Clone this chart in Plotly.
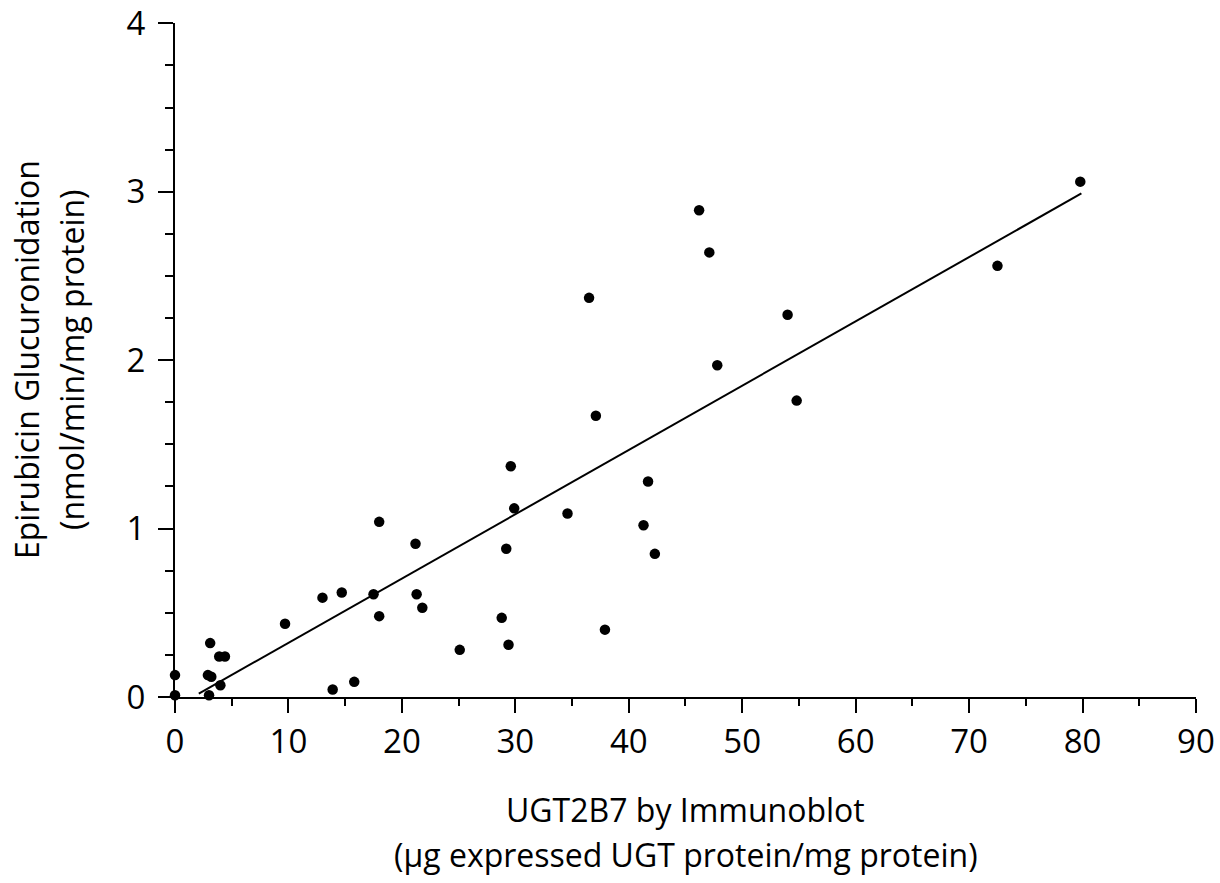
import plotly.graph_objects as go

# Data
ugt2b7 = [0.0, 0.0, 3.1, 2.9, 3.2, 3.0, 4.0, 3.9, 4.4, 9.7,
          13.0, 14.7, 13.9, 15.8, 17.5, 18.0, 21.3, 21.8, 25.1, 29.6,
          18.0, 29.9, 34.6, 41.7, 41.3, 42.3, 21.2, 29.2, 28.8, 29.4,
          37.9, 36.5, 54.0, 47.8, 54.8, 37.1, 46.2, 47.1, 79.8, 72.5]
glucuronidation = [0.13, 0.01, 0.32, 0.13, 0.12, 0.01, 0.07, 0.24, 0.24, 0.435,
                   0.59, 0.62, 0.045, 0.09, 0.61, 0.48, 0.61, 0.53, 0.28, 1.37,
                   1.04, 1.12, 1.09, 1.28, 1.02, 0.85, 0.91, 0.88, 0.47, 0.31,
                   0.40, 2.37, 2.27, 1.97, 1.76, 1.67, 2.89, 2.64, 3.06, 2.56]

fit_x = [2.1, 79.9]
fit_y = [0.02, 2.99]

x_ticks = [0, 10, 20, 30, 40, 50, 60, 70, 80, 90]
y_ticks = [0, 1, 2, 3, 4]

x_title_lines = ["UGT2B7 by Immunoblot", "(µg expressed UGT protein/mg protein)"]
y_title_lines = ["Epirubicin Glucuronidation", "(nmol/min/mg protein)"]

FONT = "Open Sans"
TICK_SIZE = 33
TITLE_SIZE = 32

fig = go.Figure()
fig.add_trace(go.Scatter(x=fit_x, y=fit_y, mode="lines",
                         line=dict(color="black", width=2), showlegend=False,
                         cliponaxis=False))
fig.add_trace(go.Scatter(x=ugt2b7, y=glucuronidation, mode="markers",
                         marker=dict(color="black", size=10.5), showlegend=False,
                         cliponaxis=False))

fig.update_layout(
    width=1220, height=883,
    margin=dict(l=175, r=24, t=23, b=186, autoexpand=False),
    plot_bgcolor="white", paper_bgcolor="white",
    font=dict(family=FONT, color="black"),
    xaxis=dict(
        range=[0, 90.001], tickvals=x_ticks, ticktext=[str(v) for v in x_ticks],
        showline=True, linecolor="black", linewidth=2, showgrid=False, zeroline=False,
        ticks="outside", ticklen=14, tickwidth=2, tickcolor="black",
        tickfont=dict(size=TICK_SIZE, family=FONT),
        ticklabeloverflow="allow",
        minor=dict(dtick=5, tick0=0, ticks="outside", ticklen=7, tickwidth=2,
                   tickcolor="black", showgrid=False),
        automargin=False,
    ),
    yaxis=dict(
        range=[0, 4.002], tickvals=y_ticks, ticktext=[str(v) for v in y_ticks],
        showline=True, linecolor="black", linewidth=2, showgrid=False, zeroline=False,
        ticks="outside", ticklen=15, tickwidth=2, tickcolor="black",
        tickfont=dict(size=TICK_SIZE, family=FONT),
        ticklabelstandoff=6,
        ticklabeloverflow="allow",
        minor=dict(dtick=0.25, tick0=0, ticks="outside", ticklen=8, tickwidth=2,
                   tickcolor="black", showgrid=False),
        automargin=False,
    ),
)

# Axis titles as separate lines (to control line spacing)
x_shifts = [-112, -157]
for txt, ys in zip(x_title_lines, x_shifts):
    fig.add_annotation(text=txt, xref="paper", yref="paper", x=0.5, y=0,
                       xanchor="center", yanchor="middle", yshift=ys,
                       showarrow=False, font=dict(size=TITLE_SIZE, family=FONT))
y_shifts = [-149, -104]
for txt, xs in zip(y_title_lines, y_shifts):
    fig.add_annotation(text=txt, xref="paper", yref="paper", x=0, y=0.5,
                       xanchor="center", yanchor="middle", xshift=xs, textangle=-90,
                       showarrow=False, font=dict(size=TITLE_SIZE, family=FONT))

fig.write_html("out.html")
